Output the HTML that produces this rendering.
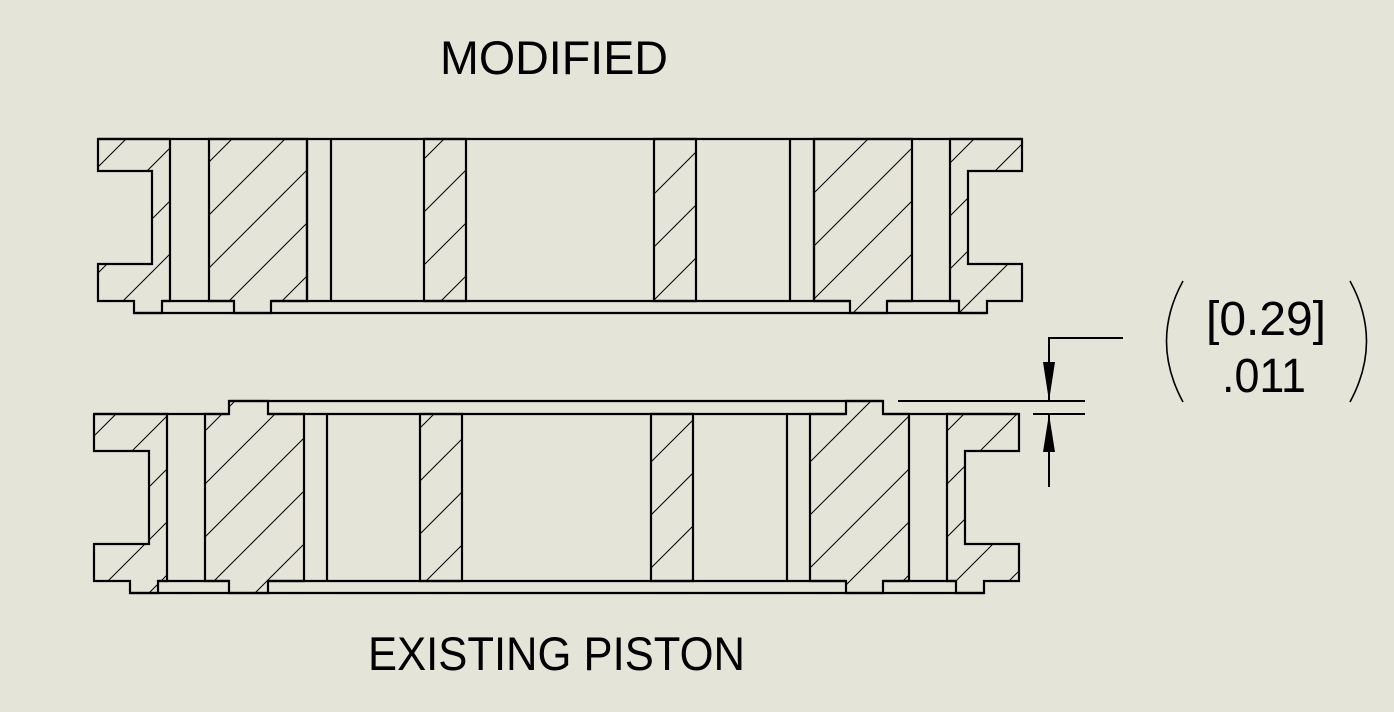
<!DOCTYPE html>
<html><head><meta charset="utf-8"><style>
html,body{margin:0;padding:0;background:#e5e4d9;}
svg{display:block}
text{font-family:"Liberation Sans",sans-serif;fill:#000}
</style></head><body>
<svg width="1394" height="712" viewBox="0 0 1394 712" xmlns="http://www.w3.org/2000/svg">
<defs>
<pattern id="h" patternUnits="userSpaceOnUse" width="53" height="53">
<line x1="-1" y1="54" x2="54" y2="-1" stroke="#000" stroke-width="1"/>
<line x1="-27" y1="27" x2="27" y2="-27" stroke="#000" stroke-width="1"/>
<line x1="26" y1="80" x2="80" y2="26" stroke="#000" stroke-width="1"/>
</pattern>
</defs>
<rect width="1394" height="712" fill="#e5e4d9"/>
<g fill="url(#h)" stroke="#000" stroke-width="2.2" stroke-linejoin="miter">
<polygon points="98,139 170,139 170,301 162,301 162,313 134,313 134,301 98,301 98,264 152,264 152,171 98,171"/>
<polygon points="209,139 307,139 307,301 271,301 271,313 234,313 234,301 209,301"/>
<polygon points="424,139 466,139 466,301 424,301"/>
<polygon points="654,139 696,139 696,301 654,301"/>
<polygon points="814,139 912,139 912,301 887,301 887,313 850,313 850,301 814,301"/>
<polygon points="950,139 1022,139 1022,171 968,171 968,264 1022,264 1022,301 987,301 987,313 959,313 959,301 950,301"/>
<polygon points="94,414 167,414 167,581 158,581 158,593 130,593 130,581 94,581 94,544 149,544 149,451 94,451"/>
<polygon points="205,414 229,414 229,401 268,401 268,414 304,414 304,581 268,581 268,593 229,593 229,581 205,581"/>
<polygon points="420,414 462,414 462,581 420,581"/>
<polygon points="651,414 693,414 693,581 651,581"/>
<polygon points="810,414 846,414 846,401 883,401 883,414 909,414 909,581 883,581 883,593 846,593 846,581 810,581"/>
<polygon points="947,414 1019,414 1019,451 965,451 965,544 1019,544 1019,581 984,581 984,593 956,593 956,581 947,581"/>
</g>
<g stroke="#000" stroke-width="2.2" fill="none">
<line x1="98" y1="139" x2="1022" y2="139"/>
<line x1="162" y1="301" x2="234" y2="301"/>
<line x1="271" y1="301" x2="850" y2="301"/>
<line x1="887" y1="301" x2="959" y2="301"/>
<line x1="134" y1="313" x2="987" y2="313"/>
<line x1="307" y1="139" x2="307" y2="301"/><line x1="331" y1="139" x2="331" y2="301"/>
<line x1="790" y1="139" x2="790" y2="301"/><line x1="814" y1="139" x2="814" y2="301"/>
<line x1="229" y1="401" x2="883" y2="401"/>
<line x1="94" y1="414" x2="229" y2="414"/>
<line x1="268" y1="414" x2="846" y2="414"/>
<line x1="883" y1="414" x2="1019" y2="414"/>
<line x1="158" y1="581" x2="229" y2="581"/>
<line x1="268" y1="581" x2="846" y2="581"/>
<line x1="883" y1="581" x2="956" y2="581"/>
<line x1="130" y1="593" x2="984" y2="593"/>
<line x1="327" y1="414" x2="327" y2="581"/><line x1="787" y1="414" x2="787" y2="581"/>
<line x1="898" y1="401" x2="1085" y2="401" stroke-width="2"/>
<line x1="1033" y1="414" x2="1085" y2="414" stroke-width="2"/>
<polyline points="1123,338 1049,338 1049,401" stroke-width="2"/>
<line x1="1049" y1="414" x2="1049" y2="487" stroke-width="2"/>
</g>
<polygon points="1043,362 1055,362 1049,401" fill="#000"/>
<polygon points="1049,414 1043,452 1055,452" fill="#000"/>
<path d="M1183,281 Q1150,341 1183,402" stroke="#000" stroke-width="1.6" fill="none"/>
<path d="M1350,281 Q1383,341 1350,402" stroke="#000" stroke-width="1.6" fill="none"/>
<text x="1206" y="335" font-size="48" textLength="120" lengthAdjust="spacingAndGlyphs">[0.29]</text>
<text x="1222" y="392" font-size="48" textLength="84" lengthAdjust="spacingAndGlyphs">.011</text>
<text x="440" y="74" font-size="47" textLength="228" lengthAdjust="spacingAndGlyphs">MODIFIED</text>
<text x="368" y="670" font-size="47" textLength="377" lengthAdjust="spacingAndGlyphs">EXISTING PISTON</text>
</svg>
</body></html>
